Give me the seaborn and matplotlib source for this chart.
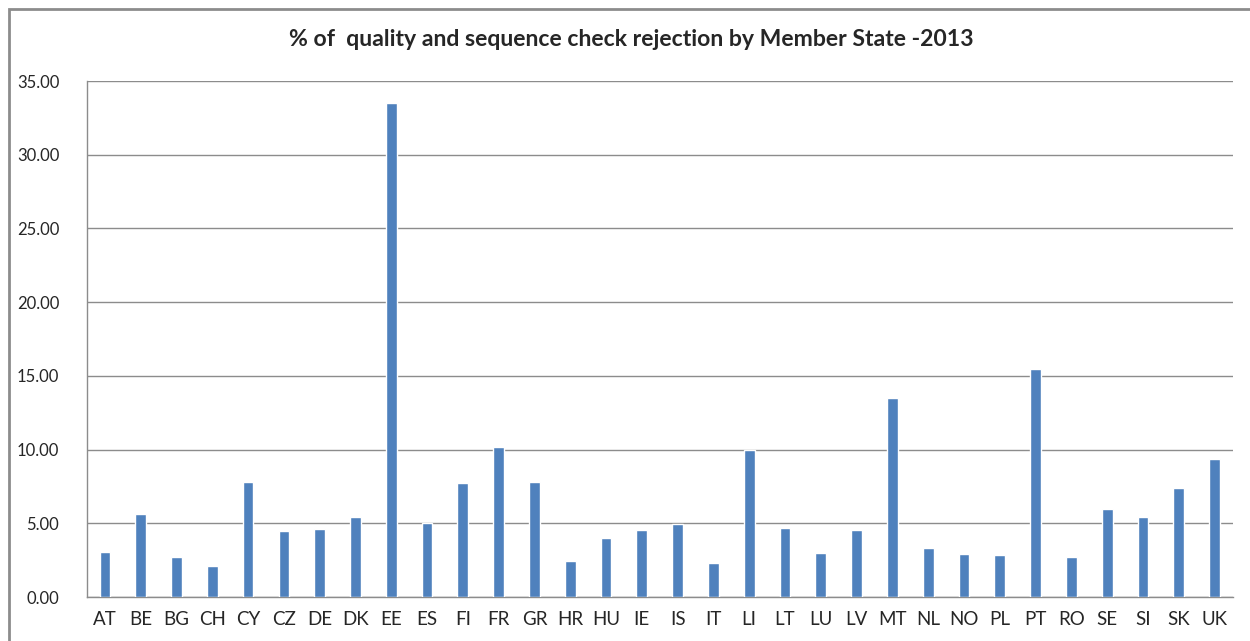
import matplotlib
matplotlib.use("Agg")
import matplotlib.pyplot as plt
import seaborn as sns
from matplotlib.patches import Rectangle

countries = ["AT", "BE", "BG", "CH", "CY", "CZ", "DE", "DK", "EE", "ES", "FI",
             "FR", "GR", "HR", "HU", "IE", "IS", "IT", "LI", "LT", "LU", "LV",
             "MT", "NL", "NO", "PL", "PT", "RO", "SE", "SI", "SK", "UK"]
rejection_pct = [3.06, 5.63, 2.70, 2.11, 7.79, 4.46, 4.59, 5.45, 33.53, 5.00, 7.72,
                 10.18, 7.79, 2.43, 4.01, 4.52, 4.98, 2.30, 10.00, 4.68, 2.99, 4.52,
                 13.49, 3.33, 2.95, 2.88, 15.44, 2.74, 5.96, 5.46, 7.40, 9.35]
y_ticks = [0, 5, 10, 15, 20, 25, 30, 35]

sns.set_style("white")
plt.rcParams["font.family"] = ["Lato", "DejaVu Sans"]

fig = plt.figure(figsize=(12.5, 6.41), dpi=100)
ax = fig.add_axes([0.0696, 0.0686, 0.9164, 0.8050])

# outer chart frame
fig.patches.append(Rectangle((9 / 1250, -0.01), 1.0, 1 - 9 / 641 + 0.01,
                             transform=fig.transFigure, fill=False,
                             edgecolor="#8c8c8c", linewidth=2.0))

sns.barplot(x=countries, y=rejection_pct, color="#4f81bd", width=0.3,
            saturation=1, ax=ax, zorder=3)

ax.set_ylim(0, 35)
ax.set_xlim(-0.5, len(countries) - 0.5)
ax.set_yticks(y_ticks)
ax.set_yticklabels([f"{v:.2f}" for v in y_ticks])
ax.yaxis.grid(True, color="#8c8c8c", linewidth=1.0, zorder=0)
ax.tick_params(axis="y", labelsize=12, length=0, pad=20)
ax.tick_params(axis="x", labelsize=13.5, length=0, pad=10)

for side in ["top", "right"]:
    ax.spines[side].set_visible(False)
for side in ["left", "bottom"]:
    ax.spines[side].set_color("#8c8c8c")
    ax.spines[side].set_linewidth(1.0)

ax.set_xlabel("")
ax.set_ylabel("")
fig.text(0.505, 0.938, "% of  quality and sequence check rejection by Member State -2013",
         ha="center", va="center", fontsize=16.6, fontweight="bold")

fig.savefig("out.png", dpi=100)
